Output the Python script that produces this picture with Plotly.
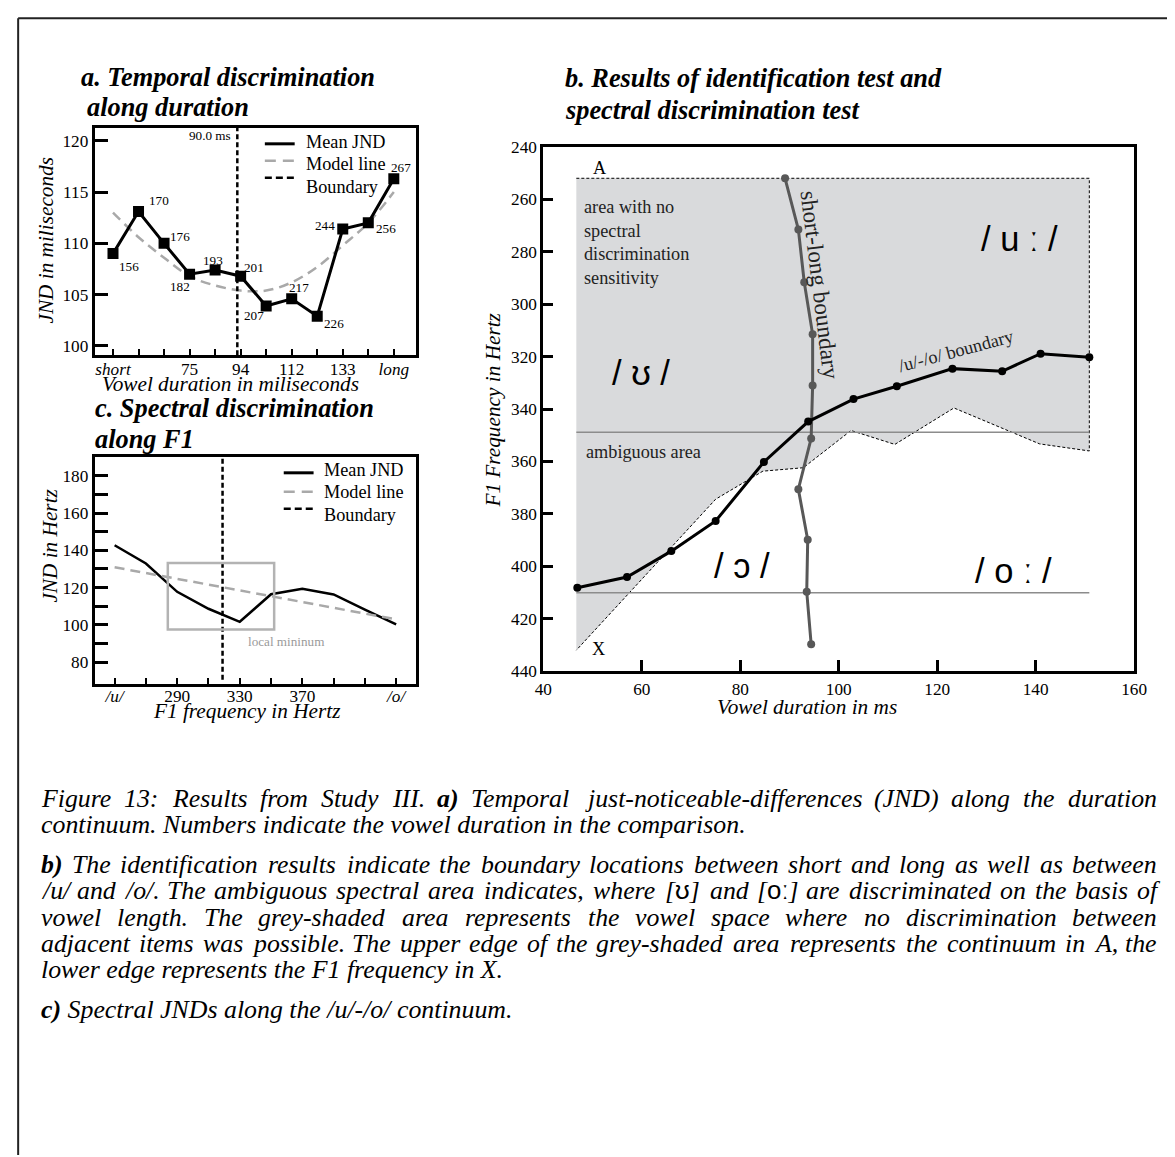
import plotly.graph_objects as go

# the page photo shows the figure shrunk by S and shifted by the OFF_* figure pixels;
# all positions below are given in photo pixels and mapped back through fx / fy
W, H = 1175, 1157
S, OFF_X, OFF_Y = 0.9866, 14, 16
SERIF = "Liberation Serif"
SANS = "Liberation Sans"

# ---- panel a: temporal JND along the duration continuum (x = continuum step)
A_STEP = list(range(12))
A_JND = [109.0, 113.1, 110.0, 107.0, 107.4, 106.8, 103.9, 104.6, 102.9, 111.4, 112.0, 116.3]
A_MODEL = [113.0, 110.6, 108.6, 106.8, 105.9, 105.4, 105.4, 106.2, 107.7, 109.8, 112.0, 115.0]
A_COMPARISON_MS = [156, 170, 176, 182, 193, 201, 207, 217, 226, 244, 256, 267]
A_TICKTEXT = ["<i>short</i>", "", "", "75", "", "94", "", "112", "", "133", "", "<i>long</i>"]
A_YTICKS = [100, 105, 110, 115, 120]
A_BOUNDARY = 4.87
A_BOUNDARY_LABEL = "90.0 ms"

# ---- panel c: spectral JND along F1
C_F1 = [250, 270, 290, 310, 330, 350, 370, 390, 410, 430]
C_JND = [142.7, 132.9, 117.7, 108.6, 101.6, 116.4, 119.3, 116.3, 108.2, 100.2]
C_MODEL_F1 = [250, 430]
C_MODEL = [130.9, 102.9]
C_BOUNDARY = 319
C_TICKTEXT = ["<i>/u/</i>", "", "290", "", "330", "", "370", "", "", "<i>/o/</i>"]
C_YTICKS = [80, 90, 100, 110, 120, 130, 140, 150, 160, 170, 180]
C_MIN_BOX_F1 = [284, 352]
C_MIN_BOX_JND = [97.5, 133.2]

# ---- panel b: identification + spectral discrimination
B_UO_DUR = [46.9, 57.0, 66.0, 75.0, 84.8, 93.8, 103.0, 111.8, 123.1, 133.2, 141.0, 150.9]
B_UO_F1 = [408.2, 404.1, 394.2, 382.7, 360.2, 344.8, 336.2, 331.3, 324.6, 325.6, 318.9, 320.3]
B_SL_DUR = [89.1, 91.8, 93.0, 94.7, 94.7, 94.4, 91.8, 93.7, 93.5, 94.4]
B_SL_F1 = [252.0, 271.5, 291.7, 311.5, 331.0, 351.2, 370.6, 389.9, 409.7, 429.7]
B_AREA_TOP = 252.0
B_AREA_LOW_DUR = [46.7, 75.0, 84.6, 92.8, 102.5, 111.4, 123.4, 140.8, 150.9]
B_AREA_LOW_F1 = [432.0, 374.4, 363.7, 362.4, 348.2, 353.5, 339.6, 353.3, 356.0]
B_AMBIG_F1 = [348.9, 410.1]
B_TICKS_X = [40, 60, 80, 100, 120, 140, 160]
B_TICKS_Y = [240, 260, 280, 300, 320, 340, 360, 380, 400, 420, 440]

LEGEND_LABELS = ["Mean JND", "Model line", "Boundary"]

CAPTION = [
    "Figure 13: Results from Study III. a) Temporal just-noticeable-differences (JND) along the duration",
    "continuum. Numbers indicate the vowel duration in the comparison.",
    "b) The identification results indicate the boundary locations between short and long as well as between",
    "/u/ and /o/. The ambiguous spectral area indicates, where [ʊ] and [oː] are discriminated on the basis of",
    "vowel length. The grey-shaded area represents the vowel space where no discrimination between",
    "adjacent items was possible. The upper edge of the grey-shaded area represents the continuum in A, the",
    "lower edge represents the F1 frequency in X.",
    "c) Spectral JNDs along the /u/-/o/ continuum.",
]
CAPTION_JUSTIFIED = [True, False, True, True, True, True, False, False]
CAPTION_Y = [800, 826, 866, 892, 919, 945, 971, 1011]

# Times-italic advance widths (1/1000 em) used to justify the caption
TIMES_I = {" ": 250, "a": 500, "b": 500, "c": 444, "d": 500, "e": 444, "f": 278, "g": 500,
           "h": 500, "i": 278, "j": 278, "k": 444, "l": 278, "m": 722, "n": 500, "o": 500,
           "p": 500, "q": 500, "r": 389, "s": 389, "t": 278, "u": 500, "v": 444, "w": 667,
           "x": 444, "y": 444, "z": 389, "A": 611, "C": 667, "D": 722, "F": 611, "I": 333,
           "J": 444, "N": 667, "R": 611, "S": 500, "T": 556, "X": 611, "(": 333, ")": 333,
           "-": 333, ".": 250, ",": 250, "/": 278, ":": 333, "[": 389, "]": 389,
           "1": 500, "3": 500, "ʊ": 620, "ː": 300}


def fx(px):
    return (px / S - OFF_X) / W


def fy(py):
    return 1 - (py / S - OFF_Y) / H


def fs(size):
    return size / S


fig = go.Figure()

# ---------------- panel a
fig.add_trace(go.Scatter(x=A_STEP, y=A_MODEL, mode="lines", name="Model line",
                         line=dict(color="#a9a9a9", width=2.5, dash="10px,6px", shape="spline"),
                         xaxis="x", yaxis="y"))
fig.add_trace(go.Scatter(x=[A_BOUNDARY, A_BOUNDARY], y=[99.1, 121.3], mode="lines", name="Boundary",
                         line=dict(color="black", width=2.5, dash="5px,3px"),
                         xaxis="x", yaxis="y"))
fig.add_trace(go.Scatter(x=A_STEP, y=A_JND, mode="lines+markers", name="Mean JND",
                         line=dict(color="black", width=3),
                         marker=dict(symbol="square", size=11, color="black"),
                         xaxis="x", yaxis="y"))

# ---------------- panel c
fig.add_trace(go.Scatter(x=C_F1, y=C_JND, mode="lines", name="Mean JND",
                         line=dict(color="black", width=2.5),
                         xaxis="x2", yaxis="y2"))
fig.add_trace(go.Scatter(x=C_MODEL_F1, y=C_MODEL, mode="lines", name="Model line",
                         line=dict(color="#a9a9a9", width=2.5, dash="10px,6px"),
                         xaxis="x2", yaxis="y2"))
fig.add_trace(go.Scatter(x=[C_BOUNDARY, C_BOUNDARY], y=[70.5, 190.2], mode="lines", name="Boundary",
                         line=dict(color="black", width=2.5, dash="5px,3px"),
                         xaxis="x2", yaxis="y2"))

# ---------------- panel b
area_x = [B_AREA_LOW_DUR[0], B_AREA_LOW_DUR[-1]] + B_AREA_LOW_DUR[::-1]
area_y = [B_AREA_TOP, B_AREA_TOP] + B_AREA_LOW_F1[::-1]
fig.add_trace(go.Scatter(x=area_x, y=area_y, mode="lines", fill="toself", fillcolor="#d9dadc",
                         line=dict(color="black", width=1, dash="3px,2px"),
                         xaxis="x3", yaxis="y3"))
for f1 in B_AMBIG_F1:
    fig.add_trace(go.Scatter(x=[B_AREA_LOW_DUR[0], B_AREA_LOW_DUR[-1]], y=[f1, f1], mode="lines",
                             line=dict(color="#8c8c8c", width=1.5),
                             xaxis="x3", yaxis="y3"))
fig.add_trace(go.Scatter(x=B_SL_DUR, y=B_SL_F1, mode="lines+markers", name="short-long",
                         line=dict(color="#585858", width=3),
                         marker=dict(size=8, color="#585858"),
                         xaxis="x3", yaxis="y3"))
fig.add_trace(go.Scatter(x=B_UO_DUR, y=B_UO_F1, mode="lines+markers", name="/u/-/o/",
                         line=dict(color="black", width=3),
                         marker=dict(size=8, color="black"),
                         xaxis="x3", yaxis="y3"))

axis_common = dict(showline=True, mirror=True, linecolor="black", linewidth=3,
                   showgrid=False, zeroline=False, ticks="inside", tickcolor="black",
                   tickfont=dict(family=SERIF, size=fs(17), color="black"))

fig.update_layout(
    width=W, height=H, margin=dict(l=0, r=0, t=0, b=0),
    paper_bgcolor="white", plot_bgcolor="white",
    font=dict(family=SERIF, color="black"),
    hovermode=False, showlegend=False,
    xaxis=dict(axis_common, domain=[fx(92), fx(415)], range=[-0.714, 11.87], anchor="y",
               tickvals=A_STEP, ticktext=A_TICKTEXT, ticklen=6, tickwidth=2,
               ticklabelstandoff=-4),
    yaxis=dict(axis_common, domain=[fy(355), fy(127)], range=[99.1, 121.26], anchor="x",
               tickvals=A_YTICKS, ticklen=13, tickwidth=3),
    xaxis2=dict(axis_common, domain=[fx(92), fx(415)], range=[237.3, 442.7], anchor="y2",
                tickvals=C_F1, ticktext=C_TICKTEXT, ticklen=6, tickwidth=2,
                ticklabelstandoff=-6),
    yaxis2=dict(axis_common, domain=[fy(685), fy(457)], range=[68.1, 190.2], anchor="x2",
                tickvals=C_YTICKS,
                ticktext=[str(v) if v % 20 == 0 else "" for v in C_YTICKS],
                ticklen=13, tickwidth=3),
    xaxis3=dict(axis_common, domain=[fx(543), fx(1137)], range=[40, 160], anchor="y3",
                tickvals=B_TICKS_X, ticklen=11, tickwidth=3),
    yaxis3=dict(axis_common, domain=[fy(672), fy(146)], range=[440, 240], anchor="x3",
                tickvals=B_TICKS_Y, ticklen=10, tickwidth=3),
)

ann = []


def text(x, y, s, size, xref="paper", yref="paper", **kw):
    d = dict(x=x, y=y, text=s, xref=xref, yref=yref, showarrow=False,
             xanchor="center", yanchor="middle",
             font=dict(family=kw.pop("family", SERIF), size=fs(size),
                       color=kw.pop("color", "black")))
    d.update(kw)
    ann.append(d)


# panel titles
for s, px, py in [("a. Temporal discrimination", 76, 76), ("along duration", 82, 107),
                  ("c. Spectral discrimination", 90, 408), ("along F1", 90, 440),
                  ("b. Results of identification test and", 563, 77),
                  ("spectral discrimination test", 563, 110)]:
    text(fx(px), fy(py), "<b><i>" + s + "</i></b>", 26, xanchor="left")

# axis titles
text(fx(228), fy(384), "<i>Vowel duration in miliseconds</i>", 21)
text(fx(42), fy(240), "<i>JND in miliseconds</i>", 21, textangle=-90)
text(fx(245), fy(712), "<i>F1 frequency in Hertz</i>", 21)
text(fx(47), fy(547), "<i>JND in Hertz</i>", 21, textangle=-90)
text(fx(808), fy(708), "<i>Vowel duration in ms</i>", 21)
text(fx(492), fy(410), "<i>F1 Frequency in Hertz</i>", 21, textangle=-90)

# hand-drawn keys for panels a and c
KEY_STYLES = [dict(color="black", width=3),
              dict(color="#a9a9a9", width=2.5, dash="11px,7px"),
              dict(color="black", width=2.5, dash="7px,4px")]
for x0, x1, tx, line_ys, text_ys in [(263, 293, 302, [143, 160, 177], [141, 163, 186]),
                                     (282, 312, 320, [473, 492, 509], [470, 492, 515])]:
    for lab, st, ly, ty in zip(LEGEND_LABELS, KEY_STYLES, line_ys, text_ys):
        fig.add_shape(type="line", xref="paper", yref="paper", x0=fx(x0), x1=fx(x1),
                      y0=fy(ly), y1=fy(ly), line=st)
        text(fx(tx), fy(ty), lab, 18, xanchor="left")

# panel a point labels
A_LABEL_OFFSETS = [(16, 13), (20, -11), (16, -7), (-10, 12), (-2, -10), (13, -9),
                   (-12, 10), (7, -11), (17, 7), (-18, -4), (18, 6), (7, -11)]
for s, v, lab, (dx, dy) in zip(A_STEP, A_JND, A_COMPARISON_MS, A_LABEL_OFFSETS):
    text(s, v, str(lab), 13, xref="x", yref="y", xshift=dx, yshift=-dy)
text(A_BOUNDARY, 120.55, A_BOUNDARY_LABEL, 13, xref="x", yref="y", xanchor="right", xshift=-4)

# panel c local minimum
fig.add_shape(type="rect", xref="x2", yref="y2",
              x0=C_MIN_BOX_F1[0], x1=C_MIN_BOX_F1[1], y0=C_MIN_BOX_JND[0], y1=C_MIN_BOX_JND[1],
              line=dict(color="#b3b3b3", width=2.5))
text(359.7, 91.2, "local mininum", 13, xref="x2", yref="y2", color="#9a9a9a")

# panel b labels
text(51.5, 248.2, "A", 18, xref="x3", yref="y3")
text(51.3, 431.4, "X", 18, xref="x3", yref="y3")
text(47.9, 258.2, "area with no<br>spectral<br>discrimination<br>sensitivity", 18,
     xref="x3", yref="y3", xanchor="left", yanchor="top", align="left", color="#222222")
text(60.4, 356.3, "ambiguous area", 18, xref="x3", yref="y3", color="#222222")
text(96.2, 292.7, "short-long boundary", 23, xref="x3", yref="y3", textangle=83, color="#222222")
text(123.9, 318.0, "/u/-/o/ boundary", 18, xref="x3", yref="y3", textangle=-15, color="#222222")
text(59.8, 326.3, "/ ʊ /", 34, xref="x3", yref="y3", family=SANS)
text(136.8, 275.0, "/ u ː /", 34, xref="x3", yref="y3", family=SANS)
text(80.4, 399.7, "/ ɔ /", 34, xref="x3", yref="y3", family=SANS)
text(135.4, 401.6, "/ o ː /", 34, xref="x3", yref="y3", family=SANS)

# caption: full lines are justified word by word like the printed page
CAP_SIZE, CAP_X0, CAP_X1 = 25.5, 38, 1160


def word_width(w):
    return 1.02 * sum(TIMES_I.get(ch, 500) for ch in w) * CAP_SIZE / 1000


def word_html(w):
    if w in ("a)", "b)", "c)"):
        return "<b><i>" + w + "</i></b>"
    if "ʊ" in w or "ː" in w:
        inner = w.strip("[]")
        return ("<i>[</i><span style=\"font-family:'Liberation Sans'\">" + inner +
                "</span><i>]</i>")
    return "<i>" + w + "</i>"


for line, just, yy in zip(CAPTION, CAPTION_JUSTIFIED, CAPTION_Y):
    words = line.split(" ")
    if not just:
        text(fx(CAP_X0), fy(yy), " ".join(word_html(w) for w in words), CAP_SIZE,
             xanchor="left", borderpad=0, borderwidth=0)
        continue
    widths = [word_width(w) for w in words]
    gap = (CAP_X1 - CAP_X0 - sum(widths)) / (len(words) - 1)
    x = CAP_X0
    for w, ww in zip(words, widths):
        text(fx(x), fy(yy), word_html(w), CAP_SIZE, xanchor="left", borderpad=0, borderwidth=0)
        x += ww + gap

fig.update_layout(annotations=ann)

# page frame (left and top edges), as near the page corner as the figure reaches
fig.add_shape(type="line", xref="paper", yref="paper", x0=0.001, x1=0.001, y0=0.999, y1=0,
              line=dict(color="#222222", width=2))
fig.add_shape(type="line", xref="paper", yref="paper", x0=0.001, x1=1, y0=0.999, y1=0.999,
              line=dict(color="#222222", width=2))

fig.write_html("out.html")
